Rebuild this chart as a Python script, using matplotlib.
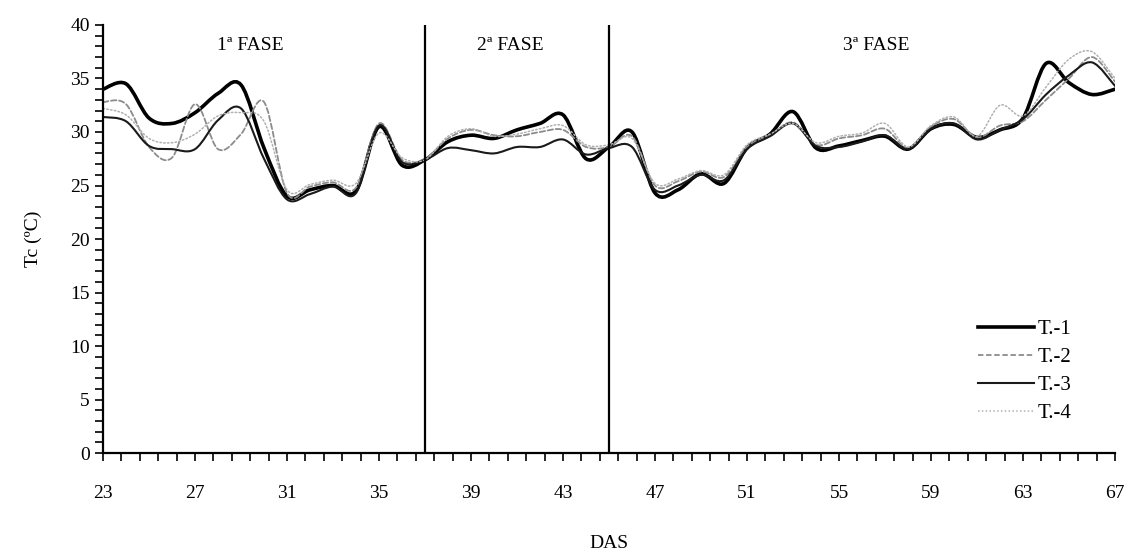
import matplotlib
matplotlib.use("Agg")
import matplotlib.pyplot as plt
from matplotlib.path import Path
from matplotlib.patches import PathPatch
from matplotlib.lines import Line2D
from matplotlib.ticker import MultipleLocator, FixedLocator
import numpy as np

# days after sowing
das = list(range(23, 68))

t1 = [34.0, 34.5, 31.3, 30.8, 31.8, 33.6, 34.4, 28.5, 24.0, 24.6,
      25.0, 24.5, 30.5, 26.9, 27.4, 29.1, 29.7, 29.4, 30.2, 30.8,
      31.6, 27.5, 28.6, 30.0, 24.3, 24.6, 26.1, 25.2, 28.5, 29.8,
      31.9, 28.5, 28.7, 29.2, 29.6, 28.4, 30.3, 30.7, 29.5, 30.2,
      31.3, 36.4, 34.6, 33.5, 34.0]
t2 = [32.8, 32.6, 28.6, 27.6, 32.6, 28.4, 29.8, 32.8, 24.3, 24.9,
      25.3, 24.8, 30.8, 27.4, 27.5, 29.4, 30.2, 29.7, 29.6, 30.0,
      30.2, 28.6, 28.6, 29.6, 25.0, 25.4, 26.3, 25.8, 28.6, 29.7,
      30.9, 28.8, 29.4, 29.7, 30.3, 28.5, 30.5, 31.2, 29.5, 30.6,
      31.0, 33.0, 35.0, 37.0, 34.7]
t3 = [31.4, 31.0, 28.7, 28.4, 28.4, 31.1, 32.2, 27.5, 23.7, 24.2,
      24.9, 24.3, 30.6, 27.2, 27.4, 28.5, 28.3, 28.0, 28.6, 28.6,
      29.3, 27.9, 28.5, 28.6, 24.6, 25.0, 26.0, 25.5, 28.4, 29.6,
      30.8, 28.7, 28.6, 29.1, 29.7, 28.4, 30.3, 30.8, 29.3, 30.2,
      31.2, 33.5, 35.3, 36.5, 34.3]
t4 = [32.2, 31.6, 29.4, 29.0, 29.8, 31.5, 31.8, 31.0, 24.6, 25.1,
      25.5, 25.2, 29.9, 27.6, 27.4, 29.6, 30.3, 29.6, 29.8, 30.3,
      30.6, 28.8, 28.8, 29.4, 25.2, 25.6, 26.4, 26.0, 28.8, 29.8,
      30.8, 29.0, 29.6, 29.9, 30.8, 28.6, 30.6, 31.4, 29.6, 32.5,
      31.5, 34.2, 36.8, 37.5, 35.0]

series_names = ["T.-1", "T.-2", "T.-3", "T.-4"]
x_ticks = list(range(23, 68, 4))
phase_bounds = [37, 45]
phase_labels = ["1ª FASE", "2ª FASE", "3ª FASE"]
phase_label_x = [29.4, 40.7, 56.6]

plt.rcParams["font.family"] = ["Liberation Serif", "DejaVu Serif"]


def smooth_path(x, y):
    """Excel-like smoothed line: cubic Bezier through every point."""
    x = np.asarray(x, float)
    y = np.asarray(y, float)
    verts = [(x[0], y[0])]
    codes = [Path.MOVETO]
    n = len(x)
    for i in range(n - 1):
        i0 = max(i - 1, 0)
        i3 = min(i + 2, n - 1)
        c1 = (x[i] + (x[i + 1] - x[i0]) / 6, y[i] + (y[i + 1] - y[i0]) / 6)
        c2 = (x[i + 1] - (x[i3] - x[i]) / 6, y[i + 1] - (y[i3] - y[i]) / 6)
        verts += [c1, c2, (x[i + 1], y[i + 1])]
        codes += [Path.CURVE4] * 3
    return Path(verts, codes)


fig = plt.figure(figsize=(11.32, 5.54), dpi=100)
ax = fig.add_axes([0.091, 0.182, 0.894, 0.773])

styles = [
    dict(color="black", lw=2.6, ls="-"),
    dict(color="#8c8c8c", lw=1.3, ls=(0, (3, 1.5))),
    dict(color="#1a1a1a", lw=1.5, ls="-"),
    dict(color="#b0b0b0", lw=1.1, ls=(0, (1, 1.5))),
]
handles = []
for ys, st, name in zip([t1, t2, t3, t4], styles, series_names):
    patch = PathPatch(smooth_path(das, ys), fill=False, edgecolor=st["color"],
                      lw=st["lw"], ls=st["ls"], capstyle="round")
    ax.add_patch(patch)
    handles.append(Line2D([], [], color=st["color"], lw=st["lw"], ls=st["ls"], label=name))

for xb in phase_bounds:
    ax.axvline(xb, color="black", lw=1.6)

for xl, txt in zip(phase_label_x, phase_labels):
    ax.text(xl, 38.1, txt, ha="center", va="center", fontsize=14)

ax.set_xlim(23, 67)
ax.set_ylim(0, 40)
ax.xaxis.set_major_locator(FixedLocator(x_ticks))
ax.xaxis.set_minor_locator(FixedLocator(np.arange(23, 67.01, 0.8)))
ax.yaxis.set_major_locator(MultipleLocator(5))
ax.yaxis.set_minor_locator(MultipleLocator(1))
ax.tick_params(which="both", direction="out", length=6, width=1.2, labelsize=14)
ax.tick_params(axis="x", pad=17)
for s in ["top", "right"]:
    ax.spines[s].set_visible(False)
for s in ["left", "bottom"]:
    ax.spines[s].set_linewidth(1.6)

ax.set_xlabel("DAS", fontsize=14, labelpad=24)
ax.set_ylabel("Tc (ºC)", fontsize=14, labelpad=20)

ax.legend(handles=handles, loc="upper left", bbox_to_anchor=(0.846, 0.355),
          frameon=False, fontsize=15, handlelength=2.7, handletextpad=0.15,
          labelspacing=0.4)

fig.savefig("out.png", dpi=100)
